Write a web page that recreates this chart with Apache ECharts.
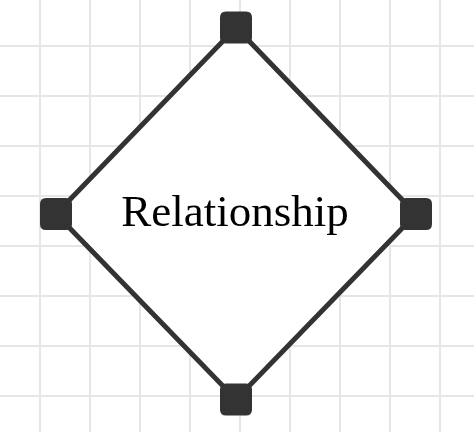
<!DOCTYPE html>
<html>
<head>
<meta charset="utf-8">
<script src="https://cdn.jsdelivr.net/npm/echarts@6/dist/echarts.min.js"></script>
<style>
  html, body { margin: 0; padding: 0; background: #fff; }
  #chart-container { width: 474px; height: 432px; }
</style>
</head>
<body>
<div id="chart-container"></div>
<script>
var dom = document.getElementById('chart-container');
var myChart = echarts.init(dom, null, { renderer: 'canvas' });

// diamond corners (top, right, bottom, left) in axis units
var shapeX = [246, 426, 246, 66];
var shapeY = [31.5, 218, 403.5, 218];
// label of the shape
var shapeName = 'Relationship';
var labelPos = [245, 218.5];

var vertexData = shapeX.map(function (v, i) {
  return [v, shapeY[i]];
});

// 圆角方块
var handlePath = 'path://M6,0 H26 Q32,0 32,6 V26 Q32,32 26,32 H6 Q0,32 0,26 V6 Q0,0 6,0 Z';

var option = {
  animation: false,
  backgroundColor: '#fff',
  grid: {
    left: -10,
    top: -4,
    width: 500,
    height: 500,
    outerBoundsMode: 'none',
    containLabel: false
  },
  xAxis: {
    type: 'value',
    min: 0,
    max: 500,
    interval: 50,
    axisLine: { show: false },
    axisTick: { show: false },
    axisLabel: { show: false },
    splitLine: { show: true, lineStyle: { color: '#e6e6e6', width: 2 } }
  },
  yAxis: {
    type: 'value',
    inverse: true,
    min: 0,
    max: 500,
    interval: 50,
    axisLine: { show: false },
    axisTick: { show: false },
    axisLabel: { show: false },
    splitLine: { show: true, lineStyle: { color: '#e6e6e6', width: 2 } }
  },
  series: [
    {
      type: 'custom',
      data: vertexData,
      renderItem: function (params, api) {
        if (params.dataIndex !== 0) return null;
        var pts = vertexData.map(function (d) { return api.coord(d); });
        var c = api.coord(labelPos);
        return {
          type: 'group',
          children: [
            {
              type: 'polygon',
              shape: { points: pts },
              style: { fill: '#fff', stroke: '#333', lineWidth: 5, lineJoin: 'miter' }
            },
            {
              type: 'text',
              x: c[0],
              y: c[1],
              style: {
                text: shapeName,
                fill: '#000',
                font: '45px "Liberation Serif", "Times New Roman", serif',
                align: 'center',
                verticalAlign: 'middle'
              }
            }
          ]
        };
      }
    },
    {
      type: 'scatter',
      data: vertexData,
      symbol: handlePath,
      symbolSize: 32,
      itemStyle: { color: '#333', opacity: 1 },
      z: 3
    }
  ]
};

myChart.setOption(option);
window.addEventListener('resize', myChart.resize);
</script>
</body>
</html>
